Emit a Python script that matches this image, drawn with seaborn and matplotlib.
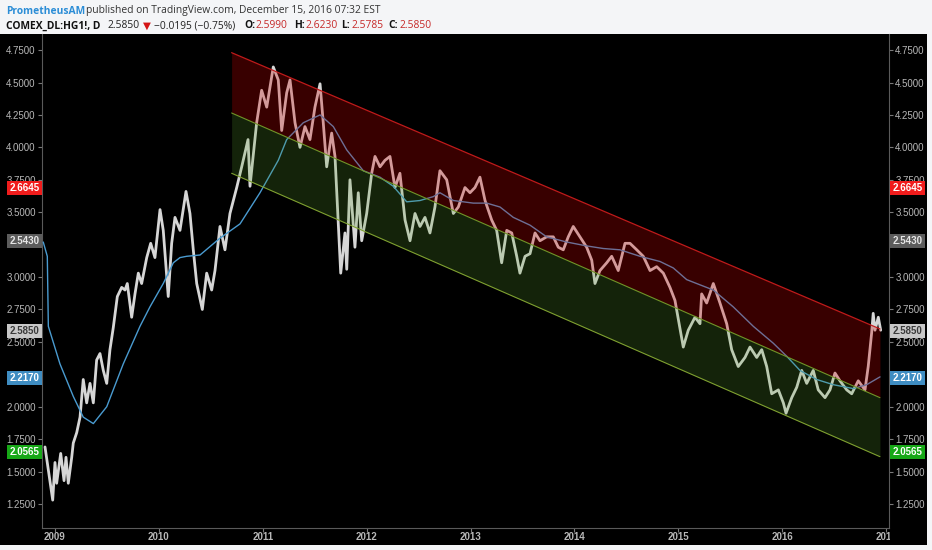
import matplotlib
matplotlib.use("Agg")
import matplotlib.pyplot as plt
import seaborn as sns
from matplotlib.patches import Rectangle
from matplotlib.transforms import Bbox, TransformedBbox, blended_transform_factory

# copper futures (HG1!) daily price, sampled off the chart: decimal year / price
price_years = [
    2008.904, 2008.978, 2009.000, 2009.016, 2009.055, 2009.087, 2009.106, 2009.128,
    2009.161, 2009.176, 2009.209, 2009.241, 2009.272, 2009.305, 2009.337, 2009.369,
    2009.401, 2009.433, 2009.465, 2009.498, 2009.529, 2009.561, 2009.600, 2009.642,
    2009.674, 2009.696, 2009.738, 2009.770, 2009.802, 2009.834, 2009.883, 2009.921,
    2009.962, 2010.011, 2010.042, 2010.090, 2010.123, 2010.155, 2010.203, 2010.261,
    2010.299, 2010.331, 2010.364, 2010.418, 2010.460, 2010.508, 2010.540, 2010.588,
    2010.636, 2010.684, 2010.749, 2010.797, 2010.858, 2010.877, 2010.941, 2010.989,
    2011.038, 2011.101, 2011.149, 2011.182, 2011.230, 2011.262, 2011.310, 2011.358,
    2011.406, 2011.454, 2011.502, 2011.551, 2011.582, 2011.615, 2011.663, 2011.695,
    2011.727, 2011.750, 2011.791, 2011.808, 2011.839, 2011.887, 2011.919, 2011.952,
    2012.000, 2012.048, 2012.080, 2012.128, 2012.176, 2012.224, 2012.272, 2012.320,
    2012.369, 2012.417, 2012.465, 2012.513, 2012.561, 2012.609, 2012.657, 2012.705,
    2012.770, 2012.834, 2012.882, 2012.946, 2012.994, 2013.042, 2013.090, 2013.139,
    2013.203, 2013.251, 2013.299, 2013.348, 2013.396, 2013.444, 2013.475, 2013.524,
    2013.572, 2013.620, 2013.668, 2013.732, 2013.796, 2013.844, 2013.892, 2013.940,
    2013.988, 2014.053, 2014.117, 2014.166, 2014.197, 2014.245, 2014.310, 2014.358,
    2014.421, 2014.486, 2014.534, 2014.599, 2014.662, 2014.727, 2014.791, 2014.855,
    2014.919, 2014.967, 2015.047, 2015.095, 2015.160, 2015.208, 2015.224, 2015.272,
    2015.336, 2015.400, 2015.465, 2015.513, 2015.576, 2015.641, 2015.689, 2015.754,
    2015.802, 2015.850, 2015.898, 2015.962, 2016.010, 2016.036, 2016.091, 2016.139,
    2016.187, 2016.235, 2016.298, 2016.346, 2016.411, 2016.459, 2016.507, 2016.555,
    2016.620, 2016.668, 2016.731, 2016.796, 2016.827, 2016.860, 2016.875, 2016.892,
    2016.924, 2016.947,
]
price_values = [
    1.69, 1.28, 1.57, 1.41, 1.64, 1.43, 1.61, 1.41,
    1.61, 1.72, 1.80, 1.92, 2.21, 2.03, 2.18, 2.03,
    2.36, 2.41, 2.28, 2.18, 2.44, 2.61, 2.85, 2.92,
    2.90, 2.95, 2.69, 2.87, 3.03, 2.95, 3.15, 3.26,
    3.15, 3.52, 3.36, 2.85, 3.26, 3.46, 3.36, 3.66,
    3.49, 3.21, 2.95, 2.75, 3.03, 2.90, 3.05, 3.39,
    3.21, 3.49, 3.69, 3.85, 4.06, 3.70, 4.19, 4.44,
    4.31, 4.62, 4.52, 4.13, 4.42, 4.52, 4.19, 4.00,
    4.16, 4.06, 4.31, 4.49, 4.19, 3.85, 4.11, 3.93,
    3.41, 3.03, 3.34, 3.06, 3.75, 3.23, 3.65, 3.28,
    3.49, 3.80, 3.93, 3.85, 3.90, 3.93, 3.69, 3.80,
    3.44, 3.28, 3.49, 3.39, 3.46, 3.34, 3.54, 3.82,
    3.75, 3.49, 3.54, 3.69, 3.65, 3.69, 3.77, 3.59,
    3.44, 3.36, 3.11, 3.36, 3.34, 3.16, 3.03, 3.16,
    3.18, 3.34, 3.28, 3.31, 3.31, 3.23, 3.21, 3.31,
    3.39, 3.31, 3.23, 3.13, 2.95, 3.05, 3.11, 3.16,
    3.05, 3.26, 3.26, 3.21, 3.16, 3.05, 3.08, 3.03,
    2.92, 2.82, 2.46, 2.59, 2.69, 2.64, 2.87, 2.80,
    2.95, 2.80, 2.64, 2.44, 2.31, 2.38, 2.46, 2.38,
    2.44, 2.31, 2.10, 2.13, 2.03, 1.95, 2.07, 2.15,
    2.28, 2.18, 2.28, 2.13, 2.07, 2.13, 2.26, 2.20,
    2.13, 2.10, 2.20, 2.13, 2.31, 2.57, 2.72, 2.59,
    2.69, 2.59,
]

# moving average overlay
ma_years = [
    2008.887, 2008.926, 2008.936, 2009.048, 2009.176, 2009.272, 2009.369, 2009.498,
    2009.657, 2009.818, 2009.914, 2010.042, 2010.139, 2010.203, 2010.268, 2010.396,
    2010.588, 2010.781, 2010.973, 2011.149, 2011.230, 2011.390, 2011.551, 2011.679,
    2011.808, 2011.967, 2012.128, 2012.256, 2012.385, 2012.513, 2012.641, 2012.705,
    2012.834, 2013.026, 2013.155, 2013.283, 2013.411, 2013.572, 2013.732, 2013.925,
    2014.117, 2014.277, 2014.438, 2014.630, 2014.823, 2014.951, 2015.080, 2015.208,
    2015.336, 2015.528, 2015.721, 2015.913, 2016.042, 2016.170, 2016.331, 2016.491,
    2016.683, 2016.812, 2016.940,
]
ma_values = [
    3.27, 3.16, 2.62, 2.33, 2.08, 1.92, 1.87, 2.00,
    2.33, 2.62, 2.77, 2.95, 3.11, 3.15, 3.16, 3.17,
    3.30, 3.41, 3.65, 3.90, 4.06, 4.19, 4.25, 4.16,
    3.98, 3.82, 3.77, 3.70, 3.58, 3.59, 3.62, 3.65,
    3.59, 3.57, 3.57, 3.54, 3.46, 3.40, 3.31, 3.27,
    3.24, 3.22, 3.21, 3.16, 3.12, 3.07, 2.98, 2.94,
    2.90, 2.77, 2.62, 2.49, 2.39, 2.28, 2.21, 2.17,
    2.14, 2.17, 2.23,
]

# regression channel (start / end)
channel_years = [2010.70, 2016.94]
channel_upper = [4.73, 2.60]
channel_mid = [4.265, 2.07]
channel_lower = [3.80, 1.615]

year_ticks = [2009, 2010, 2011, 2012, 2013, 2014, 2015, 2016, 2017]
year_labels = ["2009", "2010", "2011", "2012", "2013", "2014", "2015", "2016", "2017"]
price_ticks = [1.25, 1.5, 1.75, 2.0, 2.25, 2.5, 2.75, 3.0, 3.25, 3.5, 3.75, 4.0, 4.25, 4.5, 4.75]
price_tick_labels = ["1.2500", "1.5000", "1.7500", "2.0000", "", "2.5000", "2.7500", "3.0000",
                     "", "3.5000", "3.7500", "4.0000", "4.2500", "4.5000", "4.7500"]

# coloured value tags on both price scales
badge_texts = ["2.6645", "2.5430", "2.5850", "2.2170", "2.0565"]
badge_levels = [3.686, 3.276, 2.582, 2.219, 1.649]
badge_colors = ["#f01c1c", "#5c5c5c", "#c8c8c8", "#3f8dc2", "#17a817"]
badge_text_colors = ["white", "#e6e6e6", "#3a3a3a", "white", "white"]

sns.set_style("dark")
plt.rcParams["font.family"] = ["Liberation Sans", "DejaVu Sans"]

W, H = 932, 550
fig = plt.figure(figsize=(W / 100, H / 100), dpi=100)
fig.patch.set_facecolor("#f4f5f7")
fig.patches.append(Rectangle((0, 5 / H), 927 / W, 511 / H, transform=fig.transFigure,
                             facecolor="black", edgecolor="none", zorder=-5))

ax = fig.add_axes([42 / W, 22 / H, 847 / W, 494 / H])
ax.set_facecolor("black")
ax.grid(False)

sns.lineplot(x=price_years, y=price_values, ax=ax, color="#d6d6d6", linewidth=2.0,
             estimator=None, sort=False, zorder=2)
sns.lineplot(x=ma_years, y=ma_values, ax=ax, color="#4a9bd0", linewidth=1.0,
             estimator=None, sort=False, zorder=3)

# channel fills sit on top of the price so candles get tinted
ax.fill_between(channel_years, channel_mid, channel_upper, color="#cc0000", alpha=0.28,
                linewidth=0, zorder=4)
ax.fill_between(channel_years, channel_lower, channel_mid, color="#5fa030", alpha=0.22,
                linewidth=0, zorder=4)
ax.plot(channel_years, channel_upper, color="#c01a1a", linewidth=0.9, zorder=5)
ax.plot(channel_years, channel_mid, color="#6f9628", linewidth=0.8, zorder=5)
ax.plot(channel_years, channel_lower, color="#7fa030", linewidth=0.8, zorder=5)

ax.set_xlim(2008.875, 2017.027)
ax.set_ylim(1.065, 4.874)
ax.set_xlabel("")
ax.set_ylabel("")

for side in ["left", "right", "bottom"]:
    ax.spines[side].set_visible(True)
    ax.spines[side].set_color("#5a5a5a")
    ax.spines[side].set_linewidth(0.8)
ax.spines["top"].set_visible(False)

ax.set_yticks(price_ticks)
ax.set_yticklabels(price_tick_labels)
ax.tick_params(axis="y", left=True, right=True, labelleft=True, labelright=True,
               length=3, width=0.8, color="#7a7a7a", pad=1.5, labelsize=7,
               labelcolor="#b8b8b8")
ax.set_xticks(year_ticks)
ax.set_xticklabels([])
ax.tick_params(axis="x", bottom=True, length=3, width=0.8, color="#7a7a7a")

# year labels, the last one cut by the right price scale
clip = TransformedBbox(Bbox([[0, 0], [889.5 / W, 1]]), fig.transFigure)
for yr, lab in zip(year_ticks, year_labels):
    t = ax.text(yr, -9 / 494, lab, transform=ax.get_xaxis_transform(), ha="center",
                va="center", fontsize=7, color="#b8b8b8", fontweight="bold")
    t.set_clip_box(clip)
    t.set_clip_on(True)

trans = blended_transform_factory(fig.transFigure, ax.transData)
for txt, lvl, bc, tc in zip(badge_texts, badge_levels, badge_colors, badge_text_colors):
    for xc in [24.5 / W, 907.5 / W]:
        fig.text(xc, lvl, txt, transform=trans, ha="center", va="center", fontsize=7,
                 fontweight="bold", color=tc,
                 bbox=dict(boxstyle="square,pad=0.22", facecolor=bc, edgecolor="none"))

# header
hdr_font = ["Open Sans", "DejaVu Sans"]
red = "#c62828"
line1 = [("PrometheusAM", 6, "#2b8dd6", "bold"),
         ("published on TradingView.com, December 15, 2016 07:32 EST", 86, "#333333", "normal")]
line2 = [("COMEX_DL:HG1!, D", 6, "#111111", "bold"),
         ("2.5850", 108, "#222222", "normal"),
         ("\u25bc", 143, "#d41414", "normal"),
         ("\u22120.0195 (\u22120.75%)", 154, "#222222", "normal"),
         ("O:", 244, "#111111", "bold"), ("2.5990", 256, red, "normal"),
         ("H:", 294, "#111111", "bold"), ("2.6230", 305, red, "normal"),
         ("L:", 341, "#111111", "bold"), ("2.5785", 352, red, "normal"),
         ("C:", 388, "#111111", "bold"), ("2.5850", 399, red, "normal")]
for pieces, base in [(line1, 13.5), (line2, 28.5)]:
    for s, xp, c, w in pieces:
        fam = ["DejaVu Sans"] if s == "\u25bc" else hdr_font
        fig.text(xp / W, 1 - base / H, s, ha="left", va="baseline", fontsize=7.4,
                 color=c, fontweight=w, family=fam)

fig.savefig("out.png", dpi=100, facecolor=fig.get_facecolor())
